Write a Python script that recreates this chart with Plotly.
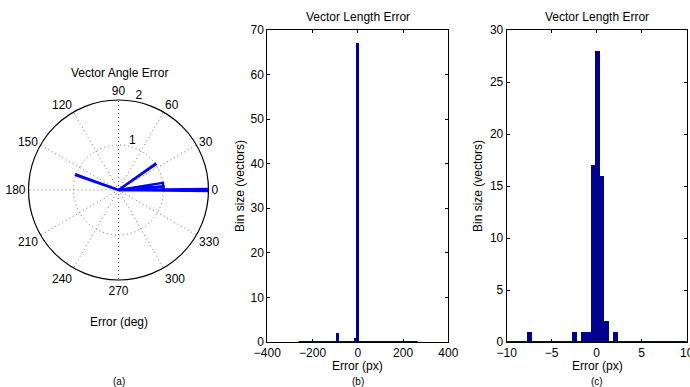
import plotly.graph_objects as go

# ---- data ----
# (a) rose histogram of angle error: bin edges (deg) and counts
rose_lo = [-0.6, 0.5, 4.5, 34.5, 160.0]
rose_hi = [0.6, 4.5, 9.2, 35.5, 161.0]
rose_count = [2, 1, 1, 1, 1]
ang_ticks = [0, 30, 60, 90, 120, 150, 180, 210, 240, 270, 300, 330]
ring_vals = [1, 2]
ring_label_theta = [72, 77]

# (b) coarse length-error histogram
b_centers = [-89, -11, 0]
b_counts = [2, 1, 67]
b_width = 12
b_span = [-262, 265]
b_xticks = [-400, -200, 0, 200, 400]
b_yticks = [0, 10, 20, 30, 40, 50, 60, 70]

# (c) fine length-error histogram
c_centers = [-7.5, -2.47, -1.48, -0.97, -0.45, 0.06, 0.57, 1.08, 2.06]
c_counts = [1, 1, 1, 1, 17, 28, 16, 2, 1]
c_width = 0.52
c_span = [-262, 265]
c_xticks = [-10, -5, 0, 5, 10]
c_yticks = [0, 5, 10, 15, 20, 25, 30]

W, H = 690, 387
FONT = "Liberation Sans"
NAVY = "#00008F"
TICK = 12

def px_x(v):
    return v / W

def px_y(v):
    return 1 - v / H

fig = go.Figure()

# rose polygons
r_all, t_all = [], []
for lo, hi, c in zip(rose_lo, rose_hi, rose_count):
    r_all += [0, c, c, 0, None]
    t_all += [lo, lo, hi, hi, None]
fig.add_trace(go.Scatterpolar(r=r_all, theta=t_all, mode="lines",
                              line=dict(color="#0000FF", width=2.4),
                              showlegend=False, hoverinfo="skip"))
# ring labels
fig.add_trace(go.Scatterpolar(r=ring_vals, theta=ring_label_theta, mode="text",
                              text=[str(v) for v in ring_vals],
                              textposition="top center", cliponaxis=False,
                              textfont=dict(family=FONT, size=TICK, color="black"),
                              showlegend=False, hoverinfo="skip"))

# (b)
fig.add_trace(go.Scatter(x=b_span, y=[0, 0], mode="lines",
                         line=dict(color=NAVY, width=2),
                         xaxis="x", yaxis="y", showlegend=False))
fig.add_trace(go.Bar(x=b_centers, y=b_counts, width=b_width,
                     marker=dict(color=NAVY, line=dict(width=0)),
                     xaxis="x", yaxis="y", showlegend=False))
# (c)
fig.add_trace(go.Scatter(x=c_span, y=[0, 0], mode="lines",
                         line=dict(color=NAVY, width=2),
                         xaxis="x2", yaxis="y2", showlegend=False))
fig.add_trace(go.Bar(x=c_centers, y=c_counts, width=c_width,
                     marker=dict(color=NAVY, line=dict(width=0)),
                     xaxis="x2", yaxis="y2", showlegend=False))

axis_common = dict(showline=True, linecolor="black", linewidth=1,
                   mirror="ticks", ticks="inside", ticklen=3,
                   tickcolor="black", showgrid=False, zeroline=False,
                   tickfont=dict(family=FONT, size=TICK, color="black"),
                   ticklabeloverflow="allow", fixedrange=True)

fig.update_layout(
    autosize=True,
    margin=dict(l=0, r=0, t=0, b=0, autoexpand=False),
    paper_bgcolor="white", plot_bgcolor="white",
    font=dict(family=FONT, size=TICK, color="black"),
    bargap=0,
    polar=dict(
        domain=dict(x=[px_x(28.5), px_x(208.5)], y=[px_y(280), px_y(100)]),
        bgcolor="white",
        angularaxis=dict(rotation=0, direction="counterclockwise",
                         tickmode="array", tickvals=ang_ticks,
                         ticktext=[str(a) for a in ang_ticks],
                         showline=True, linecolor="black", linewidth=1.2,
                         ticks="", showgrid=True, gridcolor="#707070",
                         griddash="1px,3px", gridwidth=1,
                         tickfont=dict(family=FONT, size=TICK, color="black")),
        radialaxis=dict(range=[0, 2], tickmode="array", tickvals=ring_vals,
                        showticklabels=False, showline=False,
                        ticks="", showgrid=True, gridcolor="#707070",
                        griddash="1px,3px", gridwidth=1),
    ),
    xaxis=dict(domain=[px_x(267.3), px_x(448.3)], range=[-400, 400],
               tickvals=b_xticks, anchor="y", ticklabelstandoff=0,
               **axis_common),
    yaxis=dict(domain=[px_y(342), px_y(30)], range=[0, 70],
               tickvals=b_yticks, anchor="x", **axis_common),
    xaxis2=dict(domain=[px_x(506.7), px_x(686.7)], range=[-10, 10],
                tickvals=c_xticks, anchor="y2", ticklabelstandoff=0,
                **axis_common),
    yaxis2=dict(domain=[px_y(342), px_y(30)], range=[0, 30],
                tickvals=c_yticks, anchor="x2", **axis_common),
)

def ann(text, x, y, size=12, angle=0):
    fig.add_annotation(text=text, x=px_x(x), y=px_y(y), xref="paper",
                       yref="paper", showarrow=False, textangle=angle,
                       font=dict(family=FONT, size=size, color="black"),
                       xanchor="center", yanchor="middle")

ann("Vector Angle Error", 119, 73)
ann("Error (deg)", 119, 322)
ann("(a)", 119, 381, size=10)
ann("Vector Length Error", 357.5, 17)
ann("Error (px)", 357.5, 366)
ann("(b)", 357.5, 381, size=10)
ann("Bin size (vectors)", 240, 186, angle=-90)
ann("Vector Length Error", 597, 17)
ann("Error (px)", 597, 366)
ann("(c)", 597, 381, size=10)
ann("Bin size (vectors)", 478, 186, angle=-90)

# the plot div is pinned to the window's top-left corner at exactly 690x387
fig.write_html("out.html",
               default_width="690px",
               default_height="387px; position:fixed; left:0; top:0")
